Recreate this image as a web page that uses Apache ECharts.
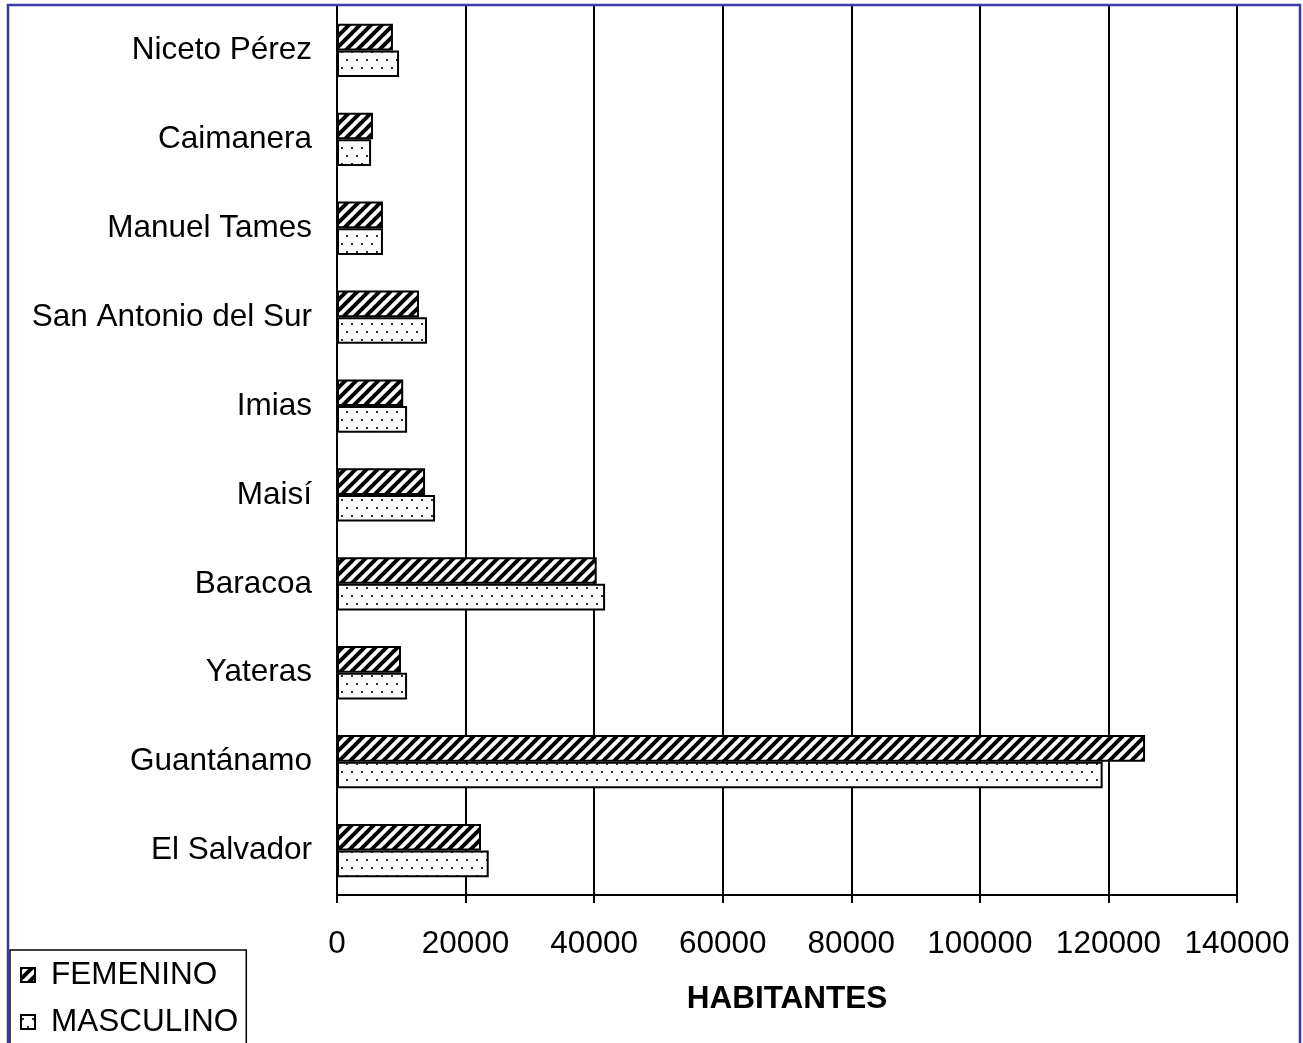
<!DOCTYPE html>
<html lang="es">
<head>
    <meta charset="UTF-8">
    <title>Habitantes por municipio</title>
    <script src="https://cdn.jsdelivr.net/npm/echarts@6/dist/echarts.min.js"></script>
    <style>
        html, body { margin: 0; padding: 0; background: #fff; }
    </style>
</head>
<body>
    <div id="barDiv" style="width: 1303px;height:1043px;"></div>
    <script>
        // categorias, de abajo hacia arriba (eje y de ECharts)
        var municipios = ['El Salvador', 'Guantánamo', 'Yateras', 'Baracoa', 'Maisí',
            'Imias', 'San Antonio del Sur', 'Manuel Tames', 'Caimanera', 'Niceto Pérez'];
        var femenino = [22400, 125700, 9950, 40400, 13700, 10300, 12750, 7150, 5600, 8700];
        var masculino = [23600, 119100, 10900, 41700, 15250, 10900, 14000, 7150, 5300, 9650];
        var ticksX = [0, 20000, 40000, 60000, 80000, 100000, 120000, 140000];

        // rayado diagonal "/"
        function hatchPattern() {
            var c = document.createElement('canvas');
            var s = 11;
            c.width = s; c.height = s;
            var ctx = c.getContext('2d');
            ctx.fillStyle = '#fff';
            ctx.fillRect(0, 0, s, s);
            ctx.strokeStyle = '#000';
            ctx.lineWidth = 4;
            for (var k = -1; k <= 1; k++) {
                ctx.beginPath();
                ctx.moveTo(k * s - 1, s + 1);
                ctx.lineTo(k * s + s + 1, -1);
                ctx.stroke();
            }
            return c;
        }
        // punteado
        function dotPattern() {
            var c = document.createElement('canvas');
            c.width = 10; c.height = 16;
            var ctx = c.getContext('2d');
            ctx.fillStyle = '#fbfbfb';
            ctx.fillRect(0, 0, 10, 16);
            ctx.fillStyle = '#333';
            ctx.fillRect(1, 3, 2, 2);
            ctx.fillRect(6, 11, 2, 2);
            return c;
        }

        var fontFam = 'Liberation Sans, Arial, sans-serif';
        var fs = 31.5;
        var content = document.getElementById("barDiv");
        var mychart = echarts.init(content);

        var option = {
            backgroundColor: '#fff',
            animation: false,
            grid: { left: 337, right: 66, top: 6, bottom: 148 },
            graphic: [{
                type: 'rect',
                z: 100,
                shape: { x: 8, y: 5, width: 1292, height: 1100 },
                style: { fill: null, stroke: '#3a3aa0', lineWidth: 2.5 },
                silent: true
            }],
            legend: {
                orient: 'vertical',
                left: 10,
                top: 950,
                height: 150,
                padding: [9, 8, 10, 10],
                itemGap: 15,
                itemWidth: 14,
                itemHeight: 14,
                icon: 'rect',
                backgroundColor: '#fff',
                borderColor: '#000',
                borderWidth: 1.5,
                data: ['FEMENINO', 'MASCULINO'],
                textStyle: { fontSize: fs, color: '#000', fontFamily: fontFam, padding: [0, 0, 0, 11] }
            },
            xAxis: {
                type: 'value',
                min: ticksX[0],
                max: ticksX[ticksX.length - 1],
                interval: ticksX[1] - ticksX[0],
                name: 'HABITANTES',
                nameLocation: 'middle',
                nameGap: 88,
                nameTextStyle: { fontSize: fs, fontWeight: 'bold', color: '#000', fontFamily: fontFam },
                axisLine: { show: true, lineStyle: { color: '#000', width: 2 } },
                axisTick: { show: true, length: 8, lineStyle: { color: '#000', width: 2 } },
                axisLabel: {
                    fontSize: fs, color: '#000', fontFamily: fontFam, margin: 33,
                    formatter: function (v) { return String(v); }
                },
                splitLine: { show: true, lineStyle: { color: '#000', width: 2 } }
            },
            yAxis: {
                type: 'category',
                data: municipios,
                axisLine: { lineStyle: { color: '#000', width: 2 } },
                axisTick: { length: 9, lineStyle: { color: '#000', width: 1.5 } },
                axisLabel: { fontSize: fs, color: '#000', fontFamily: fontFam, margin: 25 }
            },
            series: [
                {
                    name: 'FEMENINO',
                    type: 'bar',
                    data: femenino,
                    barGap: '0%',
                    barCategoryGap: '40%',
                    itemStyle: {
                        color: { image: hatchPattern(), repeat: 'repeat' },
                        borderColor: '#000',
                        borderWidth: 2
                    }
                },
                {
                    name: 'MASCULINO',
                    type: 'bar',
                    data: masculino,
                    barGap: '0%',
                    barCategoryGap: '40%',
                    itemStyle: {
                        color: { image: dotPattern(), repeat: 'repeat' },
                        borderColor: '#000',
                        borderWidth: 2
                    }
                }
            ]
        };

        mychart.setOption(option, true);
    </script>
</body>
</html>
